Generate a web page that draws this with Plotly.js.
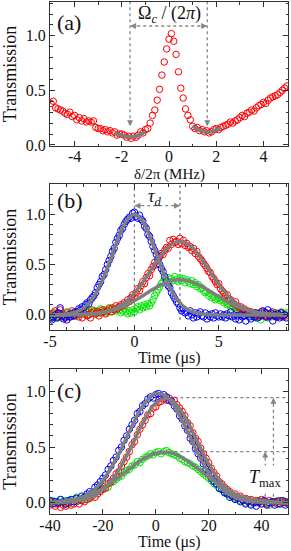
<!DOCTYPE html>
<html><head><meta charset="utf-8">
<script src="https://cdn.plot.ly/plotly-3.0.1.min.js"></script>
<style>html,body{margin:0;padding:0;background:#fff;}#chart{width:291px;height:551px;}</style>
</head><body><div id="chart"></div>
<script>
// ---------- Panel (a): transmission vs detuning ----------
const detuningA = [
 -5.0,-4.9,-4.8,-4.7,-4.6,-4.5,-4.4,-4.3,-4.2,-4.1,
 -4.0,-3.9,-3.8,-3.7,-3.6,-3.5,-3.4,-3.3,-3.2,-3.1,
 -3.0,-2.9,-2.8,-2.7,-2.6,-2.5,-2.4,-2.3,-2.2,-2.1,
 -2.0,-1.9,-1.8,-1.7,-1.6,-1.5,-1.4,-1.3,-1.2,-1.1,
 -1.0,-0.9,-0.8,-0.7,-0.6,-0.5,-0.4,-0.3,-0.2,-0.1,
 0.0,0.1,0.2,0.3,0.4,0.5,0.6,0.7,0.8,0.9,
 1.0,1.1,1.2,1.3,1.4,1.5,1.6,1.7,1.8,1.9,
 2.0,2.1,2.2,2.3,2.4,2.5,2.6,2.7,2.8,2.9,
 3.0,3.1,3.2,3.3,3.4,3.5,3.6,3.7,3.8,3.9,
 4.0,4.1,4.2,4.3,4.4,4.5,4.6,4.7,4.8,4.9,
 5.0];
const transA = [
 0.38,0.40,0.34,0.33,0.32,0.31,0.29,0.28,0.30,0.26,
 0.27,0.23,0.25,0.22,0.24,0.21,0.22,0.21,0.22,0.16,
 0.15,0.15,0.13,0.14,0.12,0.13,0.11,0.12,0.09,0.10,
 0.10,0.09,0.07,0.08,0.06,0.08,0.07,0.09,0.12,0.11,
 0.14,0.15,0.20,0.27,0.32,0.41,0.51,0.64,0.76,0.88,
 0.97,1.02,0.95,0.83,0.67,0.52,0.43,0.33,0.27,0.23,
 0.17,0.15,0.16,0.13,0.14,0.12,0.13,0.11,0.12,0.14,
 0.15,0.14,0.16,0.17,0.18,0.19,0.21,0.20,0.22,0.23,
 0.25,0.27,0.26,0.29,0.30,0.32,0.31,0.34,0.36,0.37,
 0.39,0.38,0.41,0.43,0.44,0.45,0.46,0.48,0.50,0.52,
 0.54];
const fitALeftX = [-2.3,-2.1,-1.9,-1.7,-1.5,-1.3,-1.1,-1.0];
const fitALeftY = [0.113,0.095,0.082,0.076,0.078,0.088,0.108,0.120];
const fitARightX = [1.0,1.2,1.4,1.6,1.8,2.0,2.2];
const fitARightY = [0.174,0.145,0.126,0.118,0.122,0.138,0.160];

// ---------- Panel (b): pulses vs time (us) ----------
const timeB = [
 -5.0,-4.9,-4.8,-4.7,-4.6,-4.5,-4.4,-4.3,-4.2,-4.1,
 -4.0,-3.9,-3.8,-3.7,-3.6,-3.5,-3.4,-3.3,-3.2,-3.1,
 -3.0,-2.9,-2.8,-2.7,-2.6,-2.5,-2.4,-2.3,-2.2,-2.1,
 -2.0,-1.9,-1.8,-1.7,-1.6,-1.5,-1.4,-1.3,-1.2,-1.1,
 -1.0,-0.9,-0.8,-0.7,-0.6,-0.5,-0.4,-0.3,-0.2,-0.1,
 0.0,0.1,0.2,0.3,0.4,0.5,0.6,0.7,0.8,0.9,
 1.0,1.1,1.2,1.3,1.4,1.5,1.6,1.7,1.8,1.9,
 2.0,2.1,2.2,2.3,2.4,2.5,2.6,2.7,2.8,2.9,
 3.0,3.1,3.2,3.3,3.4,3.5,3.6,3.7,3.8,3.9,
 4.0,4.1,4.2,4.3,4.4,4.5,4.6,4.7,4.8,4.9,
 5.0,5.1,5.2,5.3,5.4,5.5,5.6,5.7,5.8,5.9,
 6.0,6.1,6.2,6.3,6.4,6.5,6.6,6.7,6.8,6.9,
 7.0,7.1,7.2,7.3,7.4,7.5,7.6,7.7,7.8,7.9,
 8.0,8.1,8.2,8.3,8.4,8.5,8.6,8.7,8.8,8.9,
 9.0];
const blueB = [
 -0.03,-0.05,-0.02,0.00,-0.03,0.02,0.07,-0.01,-0.04,-0.02,
 -0.05,0.00,-0.02,0.01,-0.01,0.03,0.02,0.06,0.05,0.08,
 0.07,0.10,0.12,0.11,0.15,0.17,0.19,0.22,0.27,0.30,
 0.33,0.38,0.40,0.45,0.50,0.54,0.58,0.63,0.66,0.72,
 0.76,0.79,0.84,0.86,0.90,0.93,0.95,0.97,0.96,1.01,
 1.02,0.98,0.96,0.99,0.95,0.93,0.88,0.86,0.80,0.78,
 0.73,0.68,0.64,0.60,0.55,0.50,0.46,0.43,0.38,0.33,
 0.29,0.27,0.22,0.19,0.16,0.13,0.11,0.07,0.04,0.06,
 0.02,0.03,-0.01,0.04,0.00,-0.03,0.02,-0.02,0.01,0.03,
 -0.01,-0.02,0.02,-0.04,0.00,-0.02,0.01,-0.03,0.02,-0.01,
 -0.02,0.01,-0.02,0.00,-0.03,0.01,-0.01,0.03,-0.02,0.00,
 -0.04,-0.01,-0.05,0.00,-0.02,-0.01,-0.06,0.01,-0.02,-0.04,
 0.00,-0.02,0.02,-0.03,0.01,-0.01,0.04,0.03,-0.02,0.05,
 -0.01,0.02,-0.06,0.00,-0.02,0.01,-0.03,0.02,-0.01,0.00,
 -0.03];
const redB = [
 0.00,-0.03,0.02,0.04,-0.02,0.01,0.05,-0.01,0.00,-0.03,
 0.02,-0.02,0.01,0.04,-0.01,0.00,0.03,-0.02,0.01,-0.03,
 0.02,0.05,-0.01,0.00,-0.03,0.02,0.04,0.01,0.03,-0.01,
 0.02,0.05,0.03,0.01,0.04,0.06,0.03,0.07,0.05,0.09,
 0.06,0.08,0.10,0.09,0.12,0.11,0.15,0.13,0.17,0.20,
 0.18,0.22,0.26,0.24,0.29,0.33,0.31,0.37,0.41,0.39,
 0.45,0.48,0.52,0.50,0.56,0.58,0.61,0.60,0.64,0.67,
 0.66,0.74,0.70,0.75,0.72,0.73,0.70,0.76,0.71,0.74,
 0.69,0.71,0.67,0.68,0.64,0.66,0.61,0.63,0.58,0.56,
 0.54,0.51,0.49,0.46,0.43,0.42,0.38,0.36,0.33,0.30,
 0.31,0.26,0.24,0.22,0.19,0.20,0.16,0.15,0.12,0.11,
 0.13,0.09,0.07,0.08,0.05,0.06,0.03,0.04,0.01,0.03,
 0.00,0.02,-0.01,0.01,-0.02,0.03,0.00,-0.01,0.02,-0.02,
 0.01,-0.01,0.03,0.00,-0.02,0.01,-0.01,0.02,-0.02,0.00,
 -0.01];
const greenB = [
 -0.02,0.01,-0.04,-0.01,0.02,-0.03,0.00,-0.02,0.01,-0.01,
 0.03,0.00,-0.02,0.02,0.01,-0.01,0.03,0.00,0.02,0.04,
 0.01,0.03,0.00,0.04,0.02,0.05,0.03,0.01,0.04,0.02,
 0.06,0.03,0.05,0.02,0.04,0.07,0.05,0.03,0.06,0.04,
 0.07,0.05,0.02,0.04,0.06,0.03,0.01,0.04,0.02,0.05,
 0.03,0.06,0.08,0.05,0.09,0.07,0.10,0.08,0.11,0.09,
 0.12,0.15,0.19,0.22,0.25,0.28,0.31,0.33,0.36,0.34,
 0.37,0.33,0.36,0.34,0.38,0.35,0.33,0.37,0.34,0.36,
 0.32,0.35,0.33,0.31,0.34,0.30,0.32,0.28,0.30,0.26,
 0.27,0.24,0.22,0.23,0.19,0.21,0.17,0.18,0.15,0.16,
 0.17,0.14,0.15,0.12,0.13,0.10,0.11,0.08,0.09,0.07,
 0.08,0.05,0.06,0.03,0.05,0.02,0.04,0.01,0.03,0.00,
 -0.02,0.01,-0.03,0.00,-0.02,-0.05,0.01,-0.01,0.02,-0.03,
 0.00,-0.02,0.01,-0.01,0.02,-0.02,0.00,0.03,-0.01,0.01,
 0.02];
const fitTimeB = [-5,-4.5,-4,-3.5,-3,-2.5,-2,-1.5,-1,-0.5,0,0.5,1,1.5,2,2.5,3,3.5,4,4.5,5,5.5,6,6.5,7,7.5,8,8.5,9];
const blueFitB = [0,0.002,0.009,0.027,0.070,0.157,0.306,0.514,0.744,0.929,1.000,0.929,0.744,0.514,0.306,0.157,0.070,0.027,0.009,0.002,0,0,0,0,0,0,0,0,0];
const redFitB = [0,0,0,0.001,0.003,0.008,0.018,0.039,0.075,0.133,0.217,0.326,0.451,0.574,0.673,0.725,0.719,0.656,0.551,0.425,0.302,0.198,0.119,0.066,0.034,0.016,0.007,0.003,0.001];
const greenFitB = [0,0.001,0.001,0.003,0.006,0.012,0.022,0.039,0.063,0.097,0.141,0.191,0.244,0.292,0.329,0.348,0.346,0.323,0.283,0.233,0.181,0.131,0.090,0.058,0.035,0.020,0.010,0.005,0.002];

// ---------- Panel (c): long pulses vs time (us) ----------
const timeC = [
 -40,-39,-38,-37,-36,-35,-34,-33,-32,-31,
 -30,-29,-28,-27,-26,-25,-24,-23,-22,-21,
 -20,-19,-18,-17,-16,-15,-14,-13,-12,-11,
 -10,-9,-8,-7,-6,-5,-4,-3,-2,-1,
 0,1,2,3,4,5,6,7,8,9,
 10,11,12,13,14,15,16,17,18,19,
 20,21,22,23,24,25,26,27,28,29,
 30,31,32,33,34,35,36,37,38,39,
 40,41,42,43,44,45,46,47,48,49,
 50];
const blueC = [
 0.02,-0.01,0.01,0.00,0.03,0.01,-0.01,0.02,0.03,0.01,
 0.04,0.03,0.06,0.05,0.08,0.10,0.09,0.14,0.16,0.19,
 0.22,0.25,0.30,0.33,0.38,0.41,0.47,0.50,0.56,0.60,
 0.66,0.70,0.74,0.80,0.82,0.87,0.89,0.93,0.95,0.94,
 0.97,0.98,0.96,0.97,0.95,0.92,0.91,0.87,0.84,0.78,
 0.75,0.69,0.65,0.58,0.55,0.49,0.44,0.40,0.35,0.30,
 0.27,0.22,0.19,0.17,0.13,0.12,0.09,0.08,0.05,0.06,
 0.03,0.04,0.01,0.02,-0.01,0.01,-0.02,0.00,-0.03,0.01,
 -0.01,0.02,-0.02,0.00,0.01,-0.02,0.01,-0.01,0.02,-0.02,
 0.00];
const redC = [
 -0.02,0.01,-0.03,-0.01,-0.04,-0.02,-0.03,0.00,-0.02,-0.01,
 0.01,-0.01,0.02,0.01,0.03,0.04,0.06,0.05,0.08,0.10,
 0.12,0.13,0.17,0.19,0.22,0.26,0.28,0.33,0.37,0.41,
 0.46,0.52,0.55,0.61,0.66,0.70,0.74,0.79,0.80,0.85,
 0.86,0.90,0.91,0.93,0.92,0.94,0.91,0.92,0.88,0.85,
 0.82,0.78,0.72,0.69,0.63,0.58,0.55,0.49,0.44,0.40,
 0.36,0.31,0.27,0.24,0.19,0.17,0.14,0.12,0.10,0.07,
 0.08,0.05,0.06,0.03,0.04,0.02,0.03,0.01,0.02,0.00,
 0.03,0.01,-0.01,0.02,0.00,0.01,-0.01,0.02,0.00,0.01,
 -0.01];
const greenC = [
 0.00,0.02,-0.01,0.01,0.03,0.00,0.02,-0.01,0.01,0.03,
 0.05,0.02,0.04,0.03,0.06,0.05,0.08,0.09,0.10,0.12,
 0.13,0.15,0.14,0.18,0.19,0.21,0.23,0.24,0.27,0.29,
 0.30,0.33,0.34,0.37,0.36,0.39,0.41,0.42,0.44,0.43,
 0.45,0.46,0.44,0.46,0.47,0.45,0.44,0.43,0.42,0.40,
 0.39,0.37,0.36,0.35,0.33,0.32,0.30,0.28,0.26,0.24,
 0.22,0.20,0.17,0.16,0.13,0.12,0.10,0.08,0.07,0.05,
 0.04,0.05,0.02,0.03,0.00,0.02,-0.01,0.01,0.00,0.02,
 -0.01,0.01,0.00,-0.02,0.01,0.00,0.02,-0.01,0.01,0.00,
 0.01];
const fitTimeC = [-40,-35,-30,-25,-20,-15,-10,-5,0,5,10,15,20,25,30,35,40,45,50];
const blueFitC = [0.002,0.009,0.031,0.087,0.202,0.393,0.638,0.866,0.981,0.930,0.736,0.487,0.270,0.125,0.048,0.016,0.004,0.001,0.000];
const redFitC = [0.001,0.004,0.014,0.044,0.117,0.256,0.468,0.710,0.893,0.934,0.811,0.585,0.350,0.174,0.072,0.025,0.007,0.002,0.000];
const greenFitC = [0.006,0.015,0.034,0.071,0.129,0.211,0.304,0.391,0.445,0.451,0.405,0.323,0.229,0.144,0.080,0.040,0.018,0.007,0.002];

// tick labels and axis titles
const yTickVals = [0, 0.5, 1.0];
const yTickText = ['0.0', '0.5', '1.0'];
const xTickValsA = [-4, -2, 0, 2, 4];
const xTickTextA = ['-4', '-2', '0', '2', '4'];
const xTickValsB = [-5, 0, 5];
const xTickTextB = ['-5', '0', '5'];
const xTickValsC = [-40, -20, 0, 20, 40];
const xTickTextC = ['-40', '-20', '0', '20', '40'];
const xTitleA = 'δ/2π (MHz)';
const xTitleBC = 'Time (μs)';
const yTitle = 'Transmission';

// ---------- styling ----------
const SERIF = 'Liberation Serif';
const RED = '#ff0000', BLUE = '#0000ff', GREEN = '#00e600', FITC = '#7f7f7f', DOT = '#858585';

function pts(x, y, color, xa, ya) {
  return {x: x, y: y, xaxis: xa, yaxis: ya, type: 'scatter', mode: 'markers',
    marker: {symbol: 'circle-open', size: 6.5, color: color, line: {width: 1}}, hoverinfo: 'skip'};
}
function fit(x, y, xa, ya) {
  return {x: x, y: y, xaxis: xa, yaxis: ya, type: 'scatter', mode: 'lines',
    line: {color: FITC, width: 3.5, shape: 'spline', smoothing: 1}, hoverinfo: 'skip'};
}
const traces = [
  pts(detuningA, transA, RED, 'x', 'y'),
  fit(fitALeftX, fitALeftY, 'x', 'y'),
  fit(fitARightX, fitARightY, 'x', 'y'),
  pts(timeB, greenB, GREEN, 'x2', 'y2'),
  pts(timeB, redB, RED, 'x2', 'y2'),
  pts(timeB, blueB, BLUE, 'x2', 'y2'),
  fit(fitTimeB, blueFitB, 'x2', 'y2'),
  fit(fitTimeB, redFitB, 'x2', 'y2'),
  fit(fitTimeB, greenFitB, 'x2', 'y2'),
  pts(timeC, greenC, GREEN, 'x3', 'y3'),
  pts(timeC, redC, RED, 'x3', 'y3'),
  pts(timeC, blueC, BLUE, 'x3', 'y3'),
  fit(fitTimeC, blueFitC, 'x3', 'y3'),
  fit(fitTimeC, redFitC, 'x3', 'y3'),
  fit(fitTimeC, greenFitC, 'x3', 'y3')
];

function axis(extra) {
  return Object.assign({
    showline: true, linecolor: '#333', linewidth: 1, mirror: 'allticks',
    ticks: 'inside', ticklen: 5, tickwidth: 1, tickcolor: '#333',
    showgrid: false, zeroline: false, tickmode: 'array', automargin: false,
    tickfont: {family: SERIF, size: 16, color: '#111'}
  }, extra);
}
function minor(d, t0) {
  return {tickmode: 'linear', tick0: t0, dtick: d, ticks: 'inside', ticklen: 2.5, tickwidth: 1, tickcolor: '#333', showgrid: false};
}
const yTitleFont = {family: SERIF, size: 18, color: '#111'};

function dotted(xref, yref, x0, y0, x1, y1) {
  return {type: 'line', xref: xref, yref: yref, x0: x0, y0: y0, x1: x1, y1: y1, layer: 'below',
    line: {color: DOT, width: 1.3, dash: 'dot'}};
}
function head(xref, yref, x, y, ax, ay) {
  return {xref: xref, yref: yref, x: x, y: y, ax: ax, ay: ay, text: '', showarrow: true,
    arrowhead: 2, arrowsize: 1, arrowwidth: 1.2, arrowcolor: DOT, standoff: 0};
}
function label(xref, yref, x, y, text) {
  return {xref: xref, yref: yref, x: x, y: y, text: text, showarrow: false, xanchor: 'left', yanchor: 'middle',
    font: {family: SERIF, size: 22, color: '#111'}};
}
function xTitle(xref, ypaper, text, size) {
  return {xref: xref + ' domain', yref: 'paper', x: 0.5, y: ypaper, text: text, showarrow: false,
    xanchor: 'center', yanchor: 'middle', font: {family: SERIF, size: size, color: '#111'}};
}

const layout = {
  width: 291, height: 551,
  margin: {l: 50, r: 3, t: 2, b: 37},
  paper_bgcolor: '#fff', plot_bgcolor: '#fff', showlegend: false,
  font: {family: SERIF, size: 16, color: '#111'},
  xaxis: axis({domain: [0, 1], anchor: 'y', range: [-5.04, 5.04], tickvals: xTickValsA, ticktext: xTickTextA,
    ticklabelstandoff: -4, minor: minor(1, 0)}),
  yaxis: axis({domain: [0.71875, 1], anchor: 'x', range: [-0.01, 1.31], tickvals: yTickVals, ticktext: yTickText,
    minor: minor(0.1, 0), title: {text: yTitle, font: yTitleFont, standoff: 11}}),
  xaxis2: axis({domain: [0, 1], anchor: 'y2', range: [-5, 9.1], tickvals: xTickValsB, ticktext: xTickTextB,
    ticklabelstandoff: -3, minor: minor(1, 0)}),
  yaxis2: axis({domain: [0.3594, 0.6445], anchor: 'x2', range: [-0.15, 1.3], tickvals: yTickVals, ticktext: yTickText,
    minor: minor(0.1, 0), title: {text: yTitle, font: yTitleFont, standoff: 11}}),
  xaxis3: axis({domain: [0, 1], anchor: 'y3', range: [-40, 50], tickvals: xTickValsC, ticktext: xTickTextC,
    ticklabelstandoff: -3, minor: minor(10, 0)}),
  yaxis3: axis({domain: [0, 0.2832], anchor: 'x3', range: [-0.1, 1.2], tickvals: yTickVals, ticktext: yTickText,
    minor: minor(0.1, 0), title: {text: yTitle, font: yTitleFont, standoff: 11}}),
  shapes: [
    dotted('x', 'y', -1.65, 0.19, -1.65, 1.31),
    dotted('x', 'y', 1.62, 0.19, 1.62, 1.31),
    dotted('x', 'y', -1.6, 1.09, 1.57, 1.09),
    dotted('x2', 'y2', 0, -0.02, 0, 1.3),
    dotted('x2', 'y2', 2.7, -0.05, 2.7, 1.3),
    dotted('x2', 'y2', 0.05, 1.085, 2.65, 1.085),
    dotted('x3', 'y3', 7, 0.943, 50, 0.943),
    dotted('x3', 'y3', 7, 0.46, 50, 0.46),
    dotted('x3', 'y3', 44.5, 0.0, 44.5, 0.92),
    dotted('x3', 'y3', 41.4, 0.0, 41.4, 0.44)
  ],
  annotations: [
    xTitle('x', 0.663, xTitleA, 15),
    xTitle('x2', 0.3047, xTitleBC, 16),
    xTitle('x3', -0.0547, xTitleBC, 16),
    label('x domain', 'y domain', 0.021, 0.861, '(a)'),
    label('x2 domain', 'y2 domain', 0.021, 0.886, '(b)'),
    label('x3 domain', 'y3 domain', 0.021, 0.855, '(c)'),
    {xref: 'x', yref: 'y', x: 0, y: 1.2, text: 'Ω<sub><i>c</i></sub> / (2<i>π</i>)', showarrow: false,
      font: {family: SERIF, size: 18, color: '#111'}},
    {xref: 'x2', yref: 'y2', x: 1.2, y: 1.17, text: '<i>τ</i><sub><i>d</i></sub>', showarrow: false,
      font: {family: SERIF, size: 18, color: '#111'}},
    {xref: 'x3', yref: 'y3', x: 41.4, y: 0.22, text: '<i>T</i><sub>max</sub>', showarrow: false,
      bgcolor: '#fff', font: {family: SERIF, size: 18, color: '#111'}},
    head('x', 'y', -1.65, 0.17, 0, -8),
    head('x', 'y', 1.62, 0.17, 0, -8),
    head('x', 'y', -1.65, 1.09, 8, 0),
    head('x', 'y', 1.62, 1.09, -8, 0),
    head('x2', 'y2', 0, 1.085, 8, 0),
    head('x2', 'y2', 2.7, 1.085, -8, 0),
    head('x3', 'y3', 44.5, 0.943, 0, 8),
    head('x3', 'y3', 41.4, 0.46, 0, 8)
  ]
};

Plotly.newPlot('chart', traces, layout, {staticPlot: true, displayModeBar: false});
</script></body></html>
